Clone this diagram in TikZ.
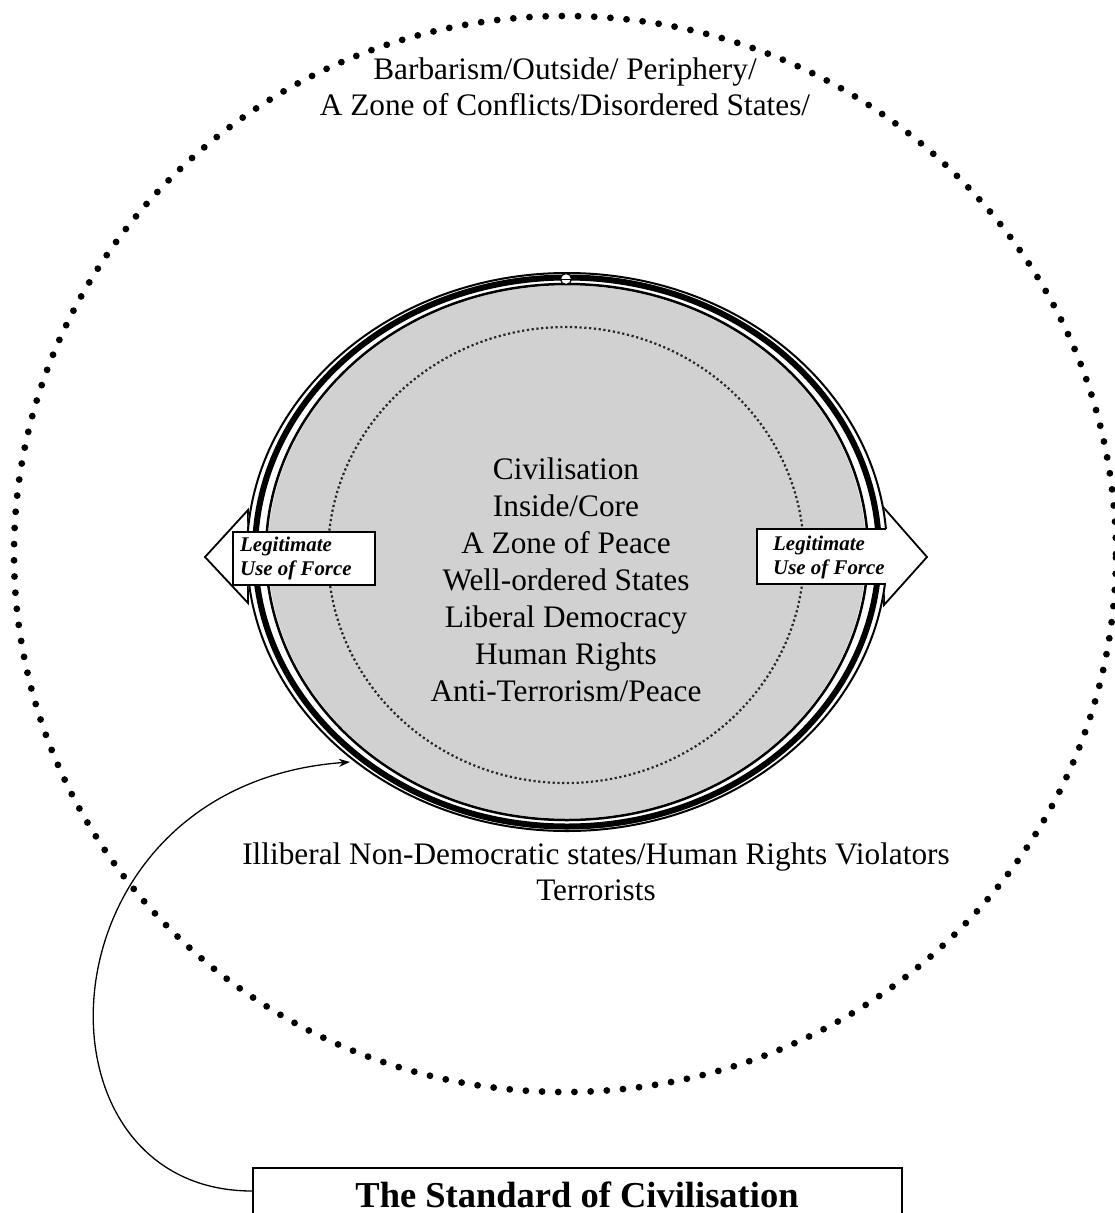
\documentclass[tikz,border=0pt]{standalone}
\usepackage{fontspec}
\setmainfont{Liberation Serif}
\usetikzlibrary{arrows.meta}
\begin{document}
\begin{tikzpicture}[x=1pt,y=-1pt,
  bigdots/.style={line width=6.8pt,line cap=round,dash pattern=on 0pt off 16.2pt},
  smalldots/.style={line width=2.2pt,black!85,dash pattern=on 2.2pt off 2.6pt},
  maintext/.style={font=\fontsize{31.3}{37}\selectfont,align=center,inner sep=0pt},
  toptext/.style={font=\fontsize{31.3}{36}\selectfont,align=center,inner sep=0pt},
  legtext/.style={font=\fontsize{20.9}{24}\selectfont\bfseries\itshape,align=left,inner sep=0pt},
  arrowshape/.style={fill=white,draw=black,line width=1.8pt,line join=miter},
  legbox/.style={fill=white,draw=black,line width=1.8pt},
  ring/.style={draw=black}
]
\useasboundingbox (0,0) rectangle (1115,1213);
\clip (0,0) rectangle (1115,1213);

% outer dotted circle
\draw[bigdots] (565,554) ellipse [x radius=551pt, y radius=538pt];

% arrow shapes (behind the ellipse)
\filldraw[arrowshape] (205,557) -- (248,510) -- (248,532) -- (375,532) -- (375,585) -- (248,585) -- (248,603) -- cycle;
\filldraw[arrowshape] (927,557) -- (884,508) -- (884,529) -- (757,529) -- (757,584) -- (884,584) -- (884,605) -- cycle;

% the core ellipse
\fill[white] (567,552) ellipse [x radius=321pt, y radius=280pt];
\fill[black!18] (567,552) ellipse [x radius=299pt, y radius=266.5pt];
\draw[ring,line width=2pt] (567,552) ellipse [x radius=320pt, y radius=279pt];
\draw[ring,line width=6pt] (567,552) ellipse [x radius=312pt, y radius=274.5pt];
\draw[ring,line width=2.5pt] (567,552) ellipse [x radius=301pt, y radius=268pt];
\draw[smalldots] (566,555) ellipse [x radius=238pt, y radius=228pt];

% small mark at the top of the ellipse
\filldraw[fill=white,draw=black,line width=1.2pt] (566,279) circle (5.5pt);
\draw[line width=1pt] (561,279) -- (571,279);

% legitimate use of force boxes
\filldraw[legbox] (233,532) rectangle (375,585);
\node[legtext,anchor=west] (leftleg) at (240,558.5) {Legitimate\\Use of Force};
\fill[white] (757,529) rectangle (892,584);
\draw[line width=1.8pt] (886,529) -- (757,529) -- (757,584) -- (886,584);
\node[legtext,anchor=west] (rightleg) at (773,557) {Legitimate\\Use of Force};

% texts
\node[toptext] (outside) at (565,87) {Barbarism/Outside/ Periphery/\\A Zone of Conflicts/Disordered States/};
\node[maintext] (core) at (566,580) {Civilisation\\Inside/Core\\A Zone of Peace\\Well-ordered States\\Liberal Democracy\\Human Rights\\Anti-Terrorism/Peace};
\node[toptext] (illiberal) at (596,872) {Illiberal Non-Democratic states/Human Rights Violators\\Terrorists};

% standard of civilisation box
\node[draw=black,line width=1.8pt,minimum width=649pt,minimum height=80pt,anchor=north,inner sep=0pt] (stdbox) at (577.5,1167) {};
\node[font=\fontsize{36.5}{40}\selectfont\bfseries,anchor=base,inner sep=0pt] (stdtext) at (577,1207) {The Standard of Civilisation};

% connector
\coordinate (cstart) at (253,1191);
\coordinate (ctip) at (350,762);
\draw[line width=1.3pt,-{Stealth[length=11pt,width=8pt]}] (cstart) .. controls (20,1192) and (35,785) .. (ctip);
\end{tikzpicture}
\end{document}
